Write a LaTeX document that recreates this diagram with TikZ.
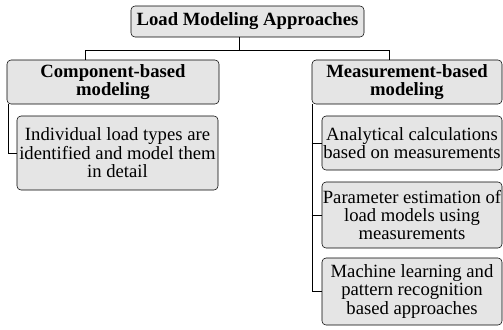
\documentclass[tikz,border=0pt]{standalone}
\usepackage{fontspec}
\setmainfont{Liberation Serif}

\begin{document}
\begin{tikzpicture}[x=0.75pt,y=-0.75pt,
    box/.style={draw,thin,rounded corners=3pt,fill=black!10,align=center,inner sep=0pt,
      font=\fontsize{14}{13.8}\selectfont},
    head/.style={box,font=\fontsize{14}{13.8}\selectfont\bfseries},
    link/.style={thin}]
  \def\px{0.75pt}

  \useasboundingbox (0,0) rectangle (503,329);

  \node [head,minimum width=233*\px,minimum height=31*\px] (root) at (247.5,21.5)
    {Load Modeling Approaches};

  \node [head,minimum width=212*\px,minimum height=44*\px] (comp) at (113,82)
    {Component-based\\modeling};
  \node [box,minimum width=201*\px,minimum height=74*\px] (comp1) at (117.5,153)
    {Individual load types are\\identified and model them\\in detail};

  \node [head,minimum width=190*\px,minimum height=44*\px] (meas) at (407,82)
    {Measurement-based\\modeling};
  \node [box,minimum width=180*\px,minimum height=54*\px] (meas1) at (412,143)
    {Analytical calculations\\based on measurements};
  \node [box,minimum width=180*\px,minimum height=66*\px] (meas2) at (412,215)
    {Parameter estimation of\\load models using\\measurements};
  \node [box,minimum width=180*\px,minimum height=67*\px] (meas3) at (412,291.5)
    {Machine learning and\\pattern recognition\\based approaches};

  % tree lines
  \coordinate (bus)  at (239,50);
  \coordinate (busL) at (85,50);
  \coordinate (busR) at (389,50);

  \draw [link] (root.south -| bus) -- (bus);
  \draw [link] (busL) -- (busR);
  \draw [link] (busL) -- (busL |- comp.north);
  \draw [link] (busR) -- (busR |- meas.north);

  \draw [link] ([xshift=1pt]comp.south west) |- (comp1.west);

  \draw [link] ([xshift=0.5pt]meas.south west) |- (meas3.west);
  \foreach \leaf in {meas1,meas2}
    \draw [link] (meas.south west |- \leaf.west) -- (\leaf.west);
\end{tikzpicture}
\end{document}
